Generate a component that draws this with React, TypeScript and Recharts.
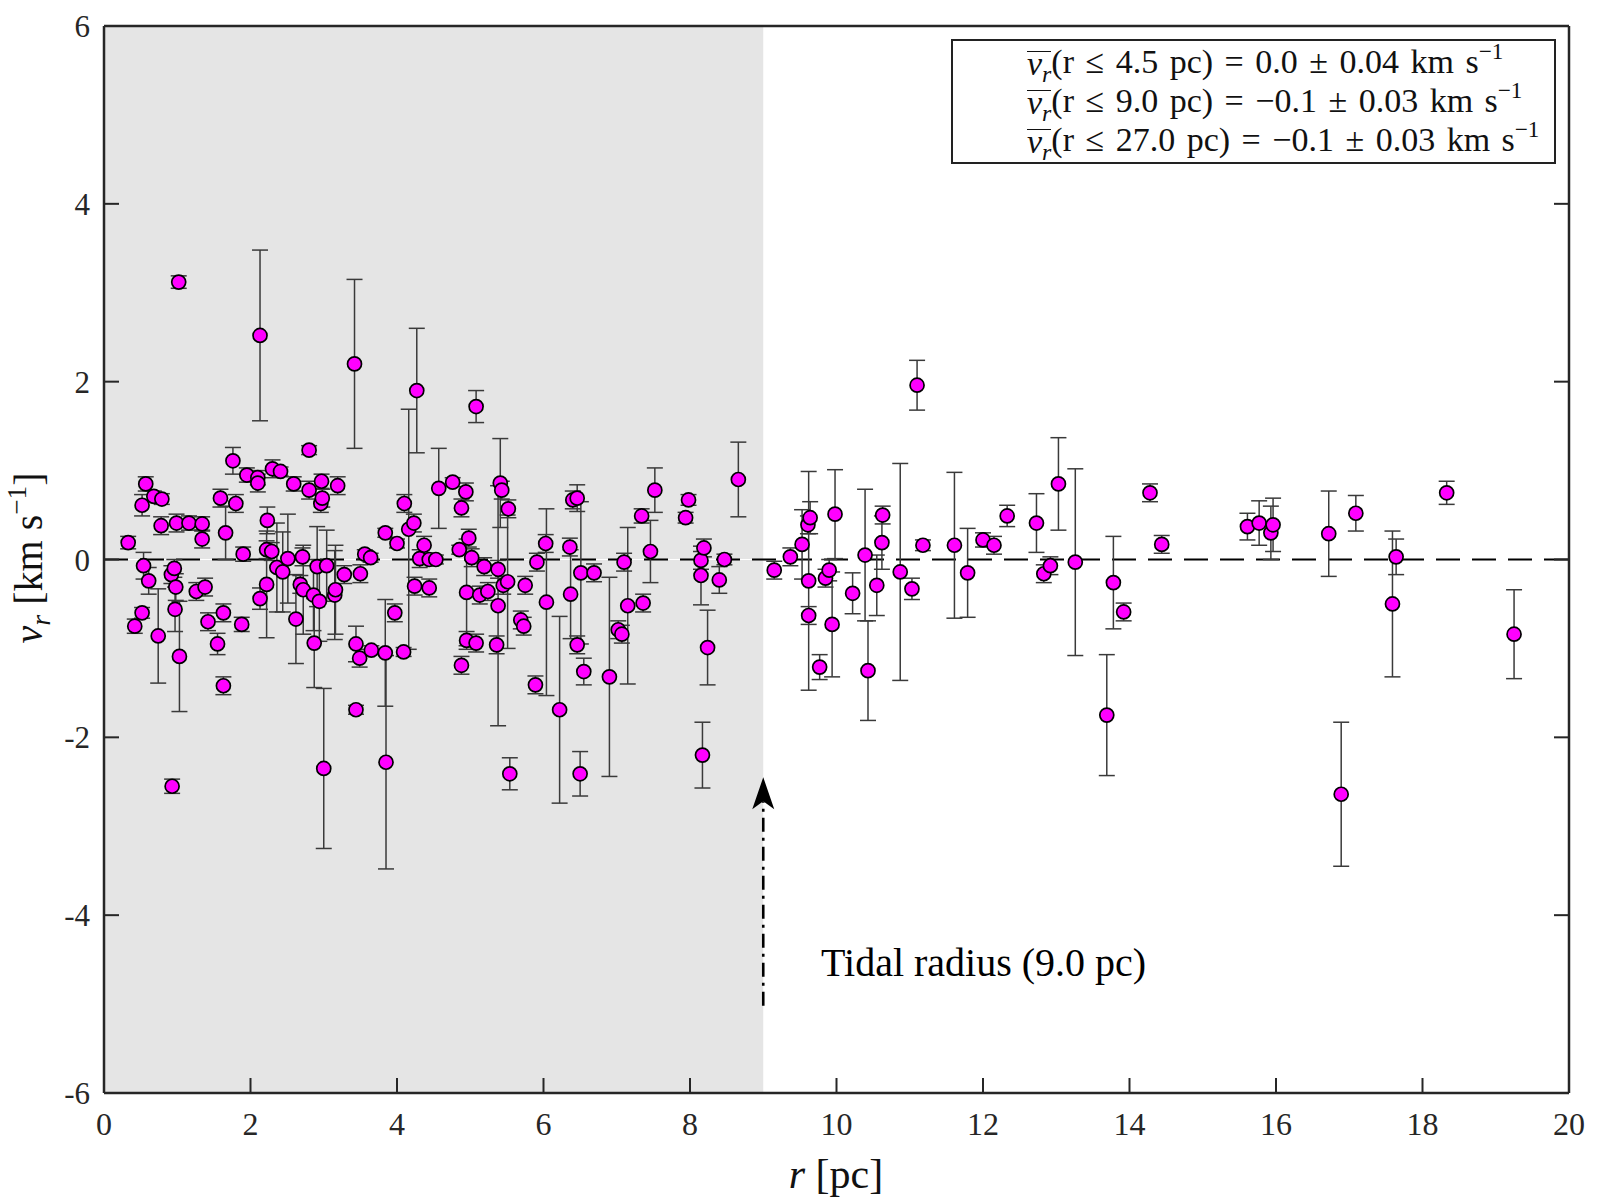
import {
  ErrorBar,
  ReferenceArea,
  ReferenceDot,
  ReferenceLine,
  Scatter,
  ScatterChart,
  XAxis,
  YAxis,
} from "recharts";

// radial distance r [pc]
const R = [
  0.33, 0.42, 0.52, 0.52, 0.54, 0.57, 0.61, 0.68, 0.74, 0.79, 0.78, 0.92, 0.93, 0.96, 0.98, 0.97, 1.02, 0.99, 1.03,
  1.16, 1.26, 1.34, 1.34, 1.38, 1.42, 1.55, 1.59, 1.63, 1.63, 1.66, 1.76, 1.8, 1.9, 1.88, 1.95, 2.1, 2.1, 2.13, 2.13,
  2.22, 2.23, 2.22, 2.29, 2.3, 2.36, 2.41, 2.44, 2.51, 2.59, 2.62, 2.71, 2.68, 2.72, 2.8, 2.8, 2.86, 2.87, 2.91, 2.94,
  2.96, 2.97, 3.0, 3.04, 2.98, 3.15, 3.16, 3.19, 3.28, 3.42, 3.44, 3.44, 3.49, 3.5, 3.56, 3.64, 3.65, 3.84, 3.84,
  3.85, 3.97, 4.0, 4.1, 4.09, 4.16, 4.23, 4.24, 4.27, 4.31, 4.37, 4.44, 4.44, 4.53, 4.57, 4.76, 4.85, 4.88, 4.88,
  4.94, 4.95, 4.95, 4.98, 5.02, 5.08, 5.08, 5.13, 5.19, 5.24, 5.36, 5.38, 5.38, 5.41, 5.43, 5.45, 5.51, 5.54, 5.52,
  5.69, 5.73, 5.75, 5.89, 5.91, 6.03, 6.04, 6.22, 6.36, 6.4, 6.37, 6.46, 6.46, 6.5, 6.51, 6.55, 6.69, 6.9, 7.02,
  7.07, 7.1, 7.15, 7.34, 7.36, 7.46, 7.52, 7.94, 7.98, 8.15, 8.15, 8.17, 8.19, 8.24, 8.4, 8.47, 8.66,
  9.15, 9.37, 9.53, 9.61, 9.64, 9.62, 9.62, 9.77, 9.85, 9.9, 9.98, 9.94, 10.22, 10.39, 10.43, 10.55, 10.62, 10.63,
  10.87, 11.03, 11.1, 11.18, 11.61, 11.79, 12.0, 12.15, 12.33, 12.73, 12.83, 12.92, 13.03, 13.26, 13.69, 13.78,
  13.92, 14.28, 14.44, 15.61, 15.77, 15.93, 15.96, 16.72, 16.89, 17.09, 17.59, 17.64, 18.33, 19.25,
];

// radial velocity v_r [km/s]
const V = [
  0.19, -0.75, 0.61, -0.6, -0.07, 0.85, -0.24, 0.71, -0.86, 0.68, 0.38, -0.17, -2.55, -0.1, -0.31, -0.56, 3.12, 0.41,
  -1.09, 0.41, -0.36, 0.4, 0.23, -0.31, -0.7, -0.95, 0.69, -0.6, -1.42, 0.3, 1.11, 0.63, 0.06, -0.73, 0.95, 0.92,
  0.86, 2.52, -0.44, 0.11, 0.44, -0.28, 0.09, 1.02, -0.09, 0.99, -0.14, 0.01, 0.85, -0.67, 0.03, -0.28, -0.34, 1.23,
  0.78, -0.4, -0.94, -0.08, -0.47, 0.63, 0.88, -2.35, -0.07, 0.69, -0.4, -0.34, 0.83, -0.17, 2.2, -1.69, -0.95,
  -1.11, -0.16, 0.06, 0.02, -1.02, 0.3, -1.05, -2.28, -0.6, 0.18, 0.63, -1.04, 0.34, 0.41, -0.3, 1.9, 0.01, 0.16,
  -0.32, 0.0, 0.0, 0.8, 0.87, 0.11, 0.58, -1.19, 0.76, -0.37, -0.91, 0.24, 0.02, -0.94, 1.72, -0.4, -0.08, -0.36,
  -0.96, -0.11, -0.52, 0.86, 0.78, -0.29, -0.25, -2.41, 0.57, -0.68, -0.75, -0.29, -1.41, -0.03, 0.18, -0.48, -1.69,
  0.14, 0.67, -0.39, 0.69, -0.96, -2.41, -0.15, -1.26, -0.15, -1.32, -0.79, -0.84, -0.03, -0.52, 0.49, -0.49, 0.09,
  0.78, 0.47, 0.67, -0.18, -0.01, -2.2, 0.13, -0.99, -0.23, 0.0, 0.9,
  -0.12, 0.03, 0.17, 0.39, 0.47, -0.24, -0.63, -1.21, -0.21, -0.12, 0.51, -0.73, -0.38, 0.05, -1.25, -0.29, 0.19,
  0.5, -0.14, -0.33, 1.96, 0.16, 0.16, -0.15, 0.22, 0.16, 0.49, 0.41, -0.16, -0.07, 0.85, -0.03, -1.75, -0.26,
  -0.59, 0.75, 0.17, 0.37, 0.41, 0.3, 0.39, 0.29, -2.64, 0.52, -0.5, 0.03, 0.75, -0.84,
];

// 1-sigma uncertainty of v_r [km/s]
const E = [
  0.07, 0.08, 0.12, 0.06, 0.15, 0.08, 0.15, 0.06, 0.53, 0.06, 0.1, 0.1, 0.08, 0.1, 0.15, 0.25, 0.07, 0.1, 0.62, 0.08,
  0.1, 0.08, 0.1, 0.1, 0.1, 0.12, 0.1, 0.1, 0.1, 0.3, 0.15, 0.1, 0.08, 0.08, 0.08, 0.08, 0.1, 0.96, 0.12, 0.1, 0.15,
  0.6, 0.1, 0.1, 0.5, 0.05, 0.45, 0.5, 0.08, 0.5, 0.1, 0.1, 0.5, 0.05, 0.1, 0.4, 0.5, 0.45, 0.45, 0.1, 0.08, 0.9,
  0.4, 0.1, 0.5, 0.5, 0.1, 0.1, 0.95, 0.05, 0.2, 0.1, 0.1, 0.05, 0.05, 0.05, 0.05, 0.6, 1.2, 0.1, 0.05, 0.1, 0.05,
  1.35, 0.1, 0.1, 0.7, 0.1, 0.1, 0.1, 0.05, 0.05, 0.45, 0.05, 0.05, 0.1, 0.1, 0.1, 0.6, 0.1, 0.1, 0.1, 0.1, 0.18,
  0.1, 0.1, 0.1, 0.1, 0.1, 1.35, 0.5, 0.1, 0.1, 0.75, 0.18, 0.1, 0.1, 0.1, 0.1, 0.1, 0.1, 0.1, 1.05, 1.05, 0.1, 0.1,
  0.5, 0.15, 0.1, 0.25, 0.8, 0.15, 0.1, 1.12, 0.1, 0.1, 0.1, 0.88, 0.08, 0.1, 0.35, 0.25, 0.06, 0.06, 0.33, 0.1,
  0.37, 0.1, 0.42, 0.15, 0.06, 0.42,
  0.1, 0.1, 0.39, 0.1, 0.18, 1.23, 0.1, 0.14, 0.1, 0.12, 0.5, 0.59, 0.23, 0.74, 0.56, 0.34, 0.3, 0.1, 1.22, 0.12,
  0.28, 0.06, 0.82, 0.5, 0.08, 0.1, 0.12, 0.33, 0.1, 0.1, 0.52, 1.05, 0.68, 0.52, 0.1, 0.1, 0.1, 0.15, 0.25, 0.3,
  0.3, 0.48, 0.81, 0.2, 0.82, 0.2, 0.13, 0.5,
];

const X_TICKS = [0, 2, 4, 6, 8, 10, 12, 14, 16, 18, 20];
const Y_TICKS = [-6, -4, -2, 0, 2, 4, 6];
const TIDAL_R = 9;

const MEAN_RMAX = ["4.5", "9.0", "27.0"];
const MEAN_VALUE = ["0.0", "\u22120.1", "\u22120.1"];
const MEAN_ERR = ["0.04", "0.03", "0.03"];

const data = R.map((r, i) => ({ r, v: V[i], e: E[i] }));

const FONT = "'Liberation Serif', 'Times New Roman', serif";
const AXIS = "#262626";
const TICK_LEN = 15;

const BottomTick = (p: any) => (
  <g>
    <line x1={p.x} x2={p.x} y1={p.y} y2={p.y - TICK_LEN} stroke={AXIS} strokeWidth={2} />
    <text x={p.x} y={p.y + 42} textAnchor="middle" fontFamily={FONT} fontSize={32} fill={AXIS}>
      {p.payload.value}
    </text>
  </g>
);

const TopTick = (p: any) => (
  <line x1={p.x} x2={p.x} y1={p.y} y2={p.y + TICK_LEN} stroke={AXIS} strokeWidth={2} />
);

const LeftTick = (p: any) => (
  <g>
    <line x1={p.x} x2={p.x + TICK_LEN} y1={p.y} y2={p.y} stroke={AXIS} strokeWidth={2} />
    <text x={p.x - 14} y={p.y + 11} textAnchor="end" fontFamily={FONT} fontSize={31} fill={AXIS}>
      {p.payload.value}
    </text>
  </g>
);

const RightTick = (p: any) => (
  <line x1={p.x} x2={p.x - TICK_LEN} y1={p.y} y2={p.y} stroke={AXIS} strokeWidth={2} />
);

const Dot = (p: any) => (
  <circle cx={p.cx} cy={p.cy} r={7} fill="#ff00ff" stroke="#000" strokeWidth={1.7} />
);

const ArrowHead = (p: any) => (
  <path
    d={`M${p.cx},${p.cy} L${p.cx + 11},${p.cy + 32} L${p.cx},${p.cy + 24} L${p.cx - 11},${p.cy + 32} Z`}
    fill="#000"
  />
);

const vbar = (
  <span
    style={{
      display: "inline-block",
      borderTop: "1.6px solid #111",
      lineHeight: "24px",
      height: 26,
      verticalAlign: "-2px",
      wordSpacing: 0,
    }}
  >
    <i>v</i>
    <i style={{ fontSize: "0.7em", position: "relative", top: "0.3em" }}>r</i>
  </span>
);

export default function App() {
  return (
    <div style={{ position: "absolute", left: 0, top: 0, width: 1600, height: 1200, background: "#fff" }}>
      <ScatterChart width={1600} height={1200} margin={{ top: 25, right: 30, bottom: 106, left: 103 }}>
        <XAxis
          dataKey="r"
          type="number"
          domain={[0, 20]}
          ticks={X_TICKS}
          height={1}
          tickSize={0}
          tickMargin={0}
          tickLine={false}
          tick={<BottomTick />}
          axisLine={{ stroke: AXIS, strokeWidth: 2.5 }}
          allowDataOverflow
        />
        <XAxis
          xAxisId="top"
          orientation="top"
          type="number"
          domain={[0, 20]}
          ticks={X_TICKS}
          height={1}
          tickSize={0}
          tickMargin={0}
          tickLine={false}
          tick={<TopTick />}
          axisLine={{ stroke: AXIS, strokeWidth: 2.5 }}
          allowDataOverflow
        />
        <YAxis
          dataKey="v"
          type="number"
          domain={[-6, 6]}
          ticks={Y_TICKS}
          width={1}
          tickSize={0}
          tickMargin={0}
          tickLine={false}
          tick={<LeftTick />}
          axisLine={{ stroke: AXIS, strokeWidth: 2.5 }}
          allowDataOverflow
        />
        <YAxis
          yAxisId="right"
          orientation="right"
          type="number"
          domain={[-6, 6]}
          ticks={Y_TICKS}
          width={1}
          tickSize={0}
          tickMargin={0}
          tickLine={false}
          tick={<RightTick />}
          axisLine={{ stroke: AXIS, strokeWidth: 2.5 }}
          allowDataOverflow
        />
        <ReferenceArea x1={0} x2={TIDAL_R} y1={-6} y2={6} fill="#e5e5e5" fillOpacity={1} stroke="none" />
        <ReferenceLine y={0} stroke="#fff" strokeWidth={1} />
        <ReferenceLine y={0} stroke="#000" strokeWidth={2.2} strokeDasharray="24 12" />
        <ReferenceLine
          segment={[
            { x: TIDAL_R, y: -5.02 },
            { x: TIDAL_R, y: -2.72 },
          ]}
          stroke="#000"
          strokeWidth={2.6}
          strokeDasharray="14 6 3 6"
        />
        <ReferenceDot x={TIDAL_R} y={-2.45} r={0} shape={<ArrowHead />} />
        <Scatter data={data} shape={<Dot />} isAnimationActive={false}>
          <ErrorBar dataKey="e" direction="y" width={8} stroke="#3a3a3a" strokeWidth={1.5} />
        </Scatter>
      </ScatterChart>

      {/* legend box with mean velocities */}
      <div
        style={{
          position: "absolute",
          left: 951,
          top: 39,
          width: 605,
          height: 125,
          border: "2px solid #222",
          background: "#fff",
          fontFamily: FONT,
          fontSize: 34,
          lineHeight: "39px",
          wordSpacing: 3,
          color: "#111",
          paddingLeft: 74,
          paddingTop: 1,
          boxSizing: "border-box",
        }}
      >
        {MEAN_RMAX.map((rm, i) => (
          <div key={rm} style={{ whiteSpace: "nowrap", height: 39 }}>
            {vbar}(r {"\u2264"} {rm} pc) = {MEAN_VALUE[i]} {"\u00b1"} {MEAN_ERR[i]} km s
            <span style={{ fontSize: "0.68em", position: "relative", top: "-0.6em" }}>{"\u22121"}</span>
          </div>
        ))}
      </div>

      {/* tidal radius annotation */}
      <div
        style={{
          position: "absolute",
          left: 821,
          top: 939,
          fontFamily: FONT,
          fontSize: 40,
          lineHeight: "48px",
          color: "#000",
          whiteSpace: "nowrap",
        }}
      >
        Tidal radius (9.0 pc)
      </div>

      {/* x label */}
      <div
        style={{
          position: "absolute",
          left: 836,
          top: 1174,
          transform: "translate(-50%, -50%)",
          fontFamily: FONT,
          fontSize: 42,
          lineHeight: "48px",
          color: "#111",
          whiteSpace: "nowrap",
        }}
      >
        <i>r</i> [pc]
      </div>

      {/* y label */}
      <div
        style={{
          position: "absolute",
          left: 31,
          top: 558,
          transform: "translate(-50%, -50%) rotate(-90deg)",
          fontFamily: FONT,
          fontSize: 40,
          lineHeight: "48px",
          color: "#111",
          whiteSpace: "nowrap",
        }}
      >
        <i>v</i>
        <i style={{ fontSize: "0.7em", position: "relative", top: "0.3em" }}>r</i>{" "}
        [km s<span style={{ fontSize: "0.68em", position: "relative", top: "-0.6em" }}>{"\u22121"}</span>]
      </div>
    </div>
  );
}
